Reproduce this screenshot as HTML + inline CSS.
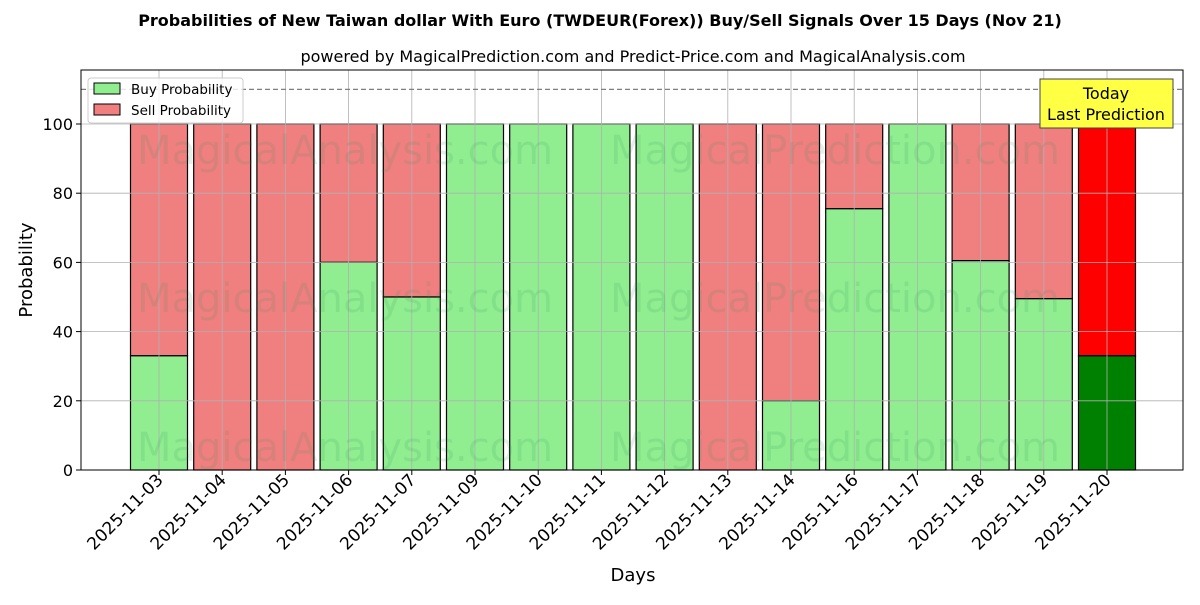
<!DOCTYPE html>
<html><head><meta charset="utf-8"><style>
body{margin:0;background:#fff}
svg{font-family:"DejaVu Sans","Liberation Sans",sans-serif}
</style></head><body>
<svg width="1200" height="600" viewBox="0 0 1200 600" xmlns="http://www.w3.org/2000/svg">
<rect width="1200" height="600" fill="#fff"/>
<text x="600" y="26" text-anchor="middle" font-size="16" font-weight="bold">Probabilities of New Taiwan dollar With Euro (TWDEUR(Forex)) Buy/Sell Signals Over 15 Days (Nov 21)</text>
<text x="633" y="62" text-anchor="middle" font-size="16">powered by MagicalPrediction.com and Predict-Price.com and MagicalAnalysis.com</text>
<g id="plot"></g>
</svg>
<script>
const g=document.getElementById('plot');
const L=81,R=1183,T=70,B=470,k=3.46;
const dates=["2025-11-03","2025-11-04","2025-11-05","2025-11-06","2025-11-07","2025-11-09","2025-11-10","2025-11-11","2025-11-12","2025-11-13","2025-11-14","2025-11-16","2025-11-17","2025-11-18","2025-11-19","2025-11-20"];
const buy=[33,0,0,60,50,100,100,100,100,0,20,75.5,100,60.5,49.5,33];
let s='';
const Y=v=>B-k*v;
for(let i=0;i<16;i++){
 const cx=159+63.2*i,x=cx-28.5,w=57,last=i==15;
 const bc=last?'#008000':'#90ee90',sc=last?'#ff0000':'#f08080';
 s+=`<rect x="${x}" y="${Y(100)}" width="${w}" height="${k*(100-buy[i])}" fill="${sc}" stroke="#000" stroke-width="1.2"/>`;
 if(buy[i]>0)s+=`<rect x="${x}" y="${Y(buy[i])}" width="${w}" height="${k*buy[i]}" fill="${bc}" stroke="#000" stroke-width="1.2"/>`;
}
for(let i=0;i<16;i++){const cx=159+63.2*i;s+=`<line x1="${cx}" y1="${T}" x2="${cx}" y2="${B}" stroke="#b0b0b0" stroke-width="0.8"/>`;
 s+=`<line x1="${cx}" y1="${B}" x2="${cx}" y2="${B+5}" stroke="#000"/>`;
 s+=`<text transform="translate(${cx+5},${B+11}) rotate(-45)" text-anchor="end" font-size="17">${dates[i]}</text>`;}
for(let v=0;v<=100;v+=20){const y=Y(v);s+=`<line x1="${L}" y1="${y}" x2="${R}" y2="${y}" stroke="#b0b0b0" stroke-width="0.8"/><line x1="${L-5}" y1="${y}" x2="${L}" y2="${y}" stroke="#000"/><text x="${L-8}" y="${y+6}" text-anchor="end" font-size="16">${v}</text>`;}
for(const y of [150,298,447]){s+=`<text x="345" y="${y+14}" text-anchor="middle" font-size="40" fill="#2e8b57" opacity="0.13">MagicalAnalysis.com</text><text x="835" y="${y+14}" text-anchor="middle" font-size="40" fill="#2e8b57" opacity="0.13">MagicalPrediction.com</text>`;}
s+=`<line x1="${L}" y1="${Y(110)}" x2="${R}" y2="${Y(110)}" stroke="#808080" stroke-width="1.2" stroke-dasharray="5,3"/>`;
s+=`<rect x="${L}" y="${T}" width="${R-L}" height="${B-T}" fill="none" stroke="#000" stroke-width="1"/>`;
s+=`<rect x="88" y="78" width="155" height="45" rx="3" fill="#fff" fill-opacity="0.8" stroke="#ccc"/>
<rect x="94" y="83" width="26" height="11" fill="#90ee90" stroke="#000"/><text x="131" y="94" font-size="13.5">Buy Probability</text>
<rect x="94" y="104" width="26" height="11" fill="#f08080" stroke="#000"/><text x="131" y="115" font-size="13.5">Sell Probability</text>`;
s+=`<rect x="1040" y="79" width="133" height="49" fill="#ffff44" stroke="#444"/><text x="1106" y="99" text-anchor="middle" font-size="16">Today</text><text x="1106" y="120" text-anchor="middle" font-size="16">Last Prediction</text>`;
s+=`<text x="633" y="581" text-anchor="middle" font-size="18">Days</text><text transform="translate(32,270) rotate(-90)" text-anchor="middle" font-size="18">Probability</text>`;
g.innerHTML=s;
</script>
</body></html>
